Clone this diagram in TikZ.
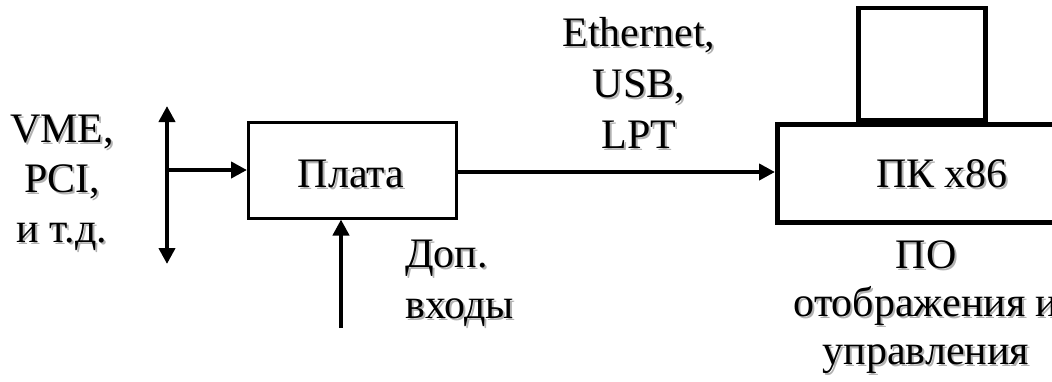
\documentclass[tikz,border=0pt]{standalone}
\usepackage{fontspec}
\setmainfont{Liberation Serif}
\usetikzlibrary{arrows.meta}

% text with a soft grey drop shadow
\newcommand\shd[1]{\leavevmode\rlap{\raisebox{-2pt}{\hspace{2pt}\textcolor{black!30}{#1}}}#1}

\tikzset{
  lbl/.style={inner sep=0pt, font=\fontsize{42}{51}\selectfont},
  thinbox/.style={draw, line width=2.5pt, inner sep=0pt},
  thickbox/.style={draw, line width=4.5pt, inner sep=0pt},
  link/.style={line width=4.5pt, -{Triangle[length=16pt,width=16pt]}},
  bus/.style={line width=4.5pt, {Triangle[length=16pt,width=16pt]}-{Triangle[length=16pt,width=16pt]}}
}

\begin{document}
\begin{tikzpicture}[x=1pt, y=-1pt]
  \useasboundingbox (0,0) rectangle (1052,381);

  % board
  \node[thinbox, minimum width=208pt, minimum height=96pt, anchor=north west]
    (board) at (247,121) {};
  \node[lbl, anchor=base] (boardlbl) at (351,187) {\shd{Плата}};

  % PC with monitor on top
  \node[thickbox, minimum width=335pt, minimum height=98pt, anchor=north west]
    (pc) at (775,122) {};
  \node[thickbox, minimum width=127pt, minimum height=112pt, anchor=south west]
    (monitor) at (856,122) {};
  \node[lbl, anchor=base] (pclbl) at (942,187) {\shd{ПК x86}};

  % system bus
  \coordinate (bustop) at (167,106);
  \coordinate (busbot) at (167,264);
  \coordinate (busmid) at (167,170);
  \draw[bus] (bustop) -- (busbot);
  \draw[link] (busmid) -- (busmid -| board.west);

  % link to PC
  \draw[link] (board.east |- 0,172) -- (pc.west |- 0,172);

  % extra inputs
  \coordinate (extin) at (341,328);
  \draw[link] (extin) -- (extin |- board.south);

  % labels
  \node[lbl, anchor=base] (vme) at (62,142) {\shd{VME,}};
  \node[lbl, anchor=base] (pci) at (62,192) {\shd{PCI,}};
  \node[lbl, anchor=base] (etc) at (62,242) {\shd{и т.д.}};

  \node[lbl, anchor=base] (eth) at (639,46) {\shd{Ethernet,}};
  \node[lbl, anchor=base] (usb) at (639,97) {\shd{USB,}};
  \node[lbl, anchor=base] (lpt) at (639,148) {\shd{LPT}};

  \node[lbl, anchor=base west] (dop) at (405,267) {\shd{Доп.}};
  \node[lbl, anchor=base west] (vhody) at (405,318) {\shd{входы}};

  \node[lbl, anchor=base] (po) at (926,268) {\shd{ПО}};
  \node[lbl, anchor=base] (otobr) at (926,316) {\shd{отображения и}};
  \node[lbl, anchor=base] (upr) at (926,364) {\shd{управления}};
\end{tikzpicture}
\end{document}
